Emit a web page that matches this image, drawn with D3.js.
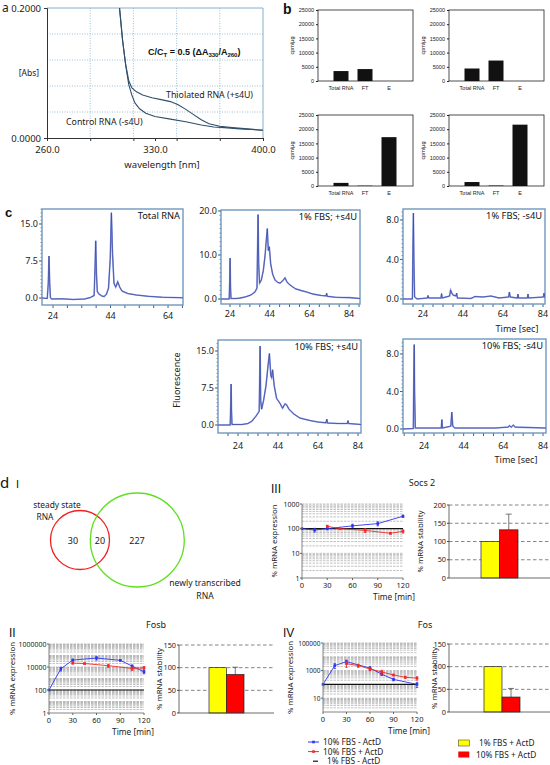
<!DOCTYPE html>
<html><head><meta charset="utf-8">
<script src="https://cdn.jsdelivr.net/npm/d3@7"></script>
<style>body{margin:0;background:#fff}svg{display:block}</style>
</head><body>
<svg id="fig" width="550" height="765"></svg>
<script>
// ================= DATA =================
// panel a : absorbance spectra
const wlTicks = [260, 330, 400];
const absTicks = [0, 0.2];
const thiolatedSpectrum = [[306,0.22],[307,0.2],[309,0.15],[311,0.113],[313,0.088],[315,0.077],[318,0.071],[322,0.066],[328,0.062],[334,0.059],[340,0.056],[345,0.051],[350,0.044],[355,0.036],[360,0.028],[365,0.022],[372,0.018],[380,0.016],[390,0.014],[400,0.012]];
const controlSpectrum = [[306,0.22],[307,0.2],[309,0.15],[311,0.112],[313,0.082],[315,0.066],[317,0.054],[320,0.045],[324,0.038],[330,0.033],[340,0.029],[350,0.025],[360,0.02],[368,0.017],[375,0.016],[385,0.014],[400,0.012]];

// panel b : cpm/µg bars
const bCategories = ["Total RNA", "FT", "E"];
const bTicks = [0, 5000, 10000, 15000, 20000, 25000];
const bTopLeft = [3500, 4200, 0];
const bTopRight = [4400, 7200, 0];
const bBottomLeft = [1100, 100, 17200];
const bBottomRight = [1400, 150, 21600];

// panel c : electropherograms [time sec, fluorescence]
const traceTotalRNA = [[20.2,0],[22,-0.1],[22.35,3],[22.6,8.5],[22.85,3],[23.1,0.1],[23.5,-0.2],[27,-0.15],[31,-0.3],[35,-0.2],[37,0.1],[38.3,0.5],[38.6,6],[38.85,11.6],[39.1,5],[39.4,1.3],[40,0.8],[41,0.4],[41.8,0.3],[42.6,0.8],[43.3,2],[43.9,8],[44.3,17.3],[44.7,9],[45.2,3],[45.8,2.2],[46.5,3.3],[47.2,2.2],[48,1.4],[50,0.9],[53,0.6],[57,0.35],[62,0.15],[69.2,0.05]];
const traceFBS1Plus = [[19.5,0],[23.6,0],[23.85,4],[24.05,9.3],[24.25,3],[24.5,0.1],[27,0.1],[29,0.2],[32,0.5],[34.5,0.9],[36.6,1.6],[37.6,2.5],[37.9,12],[38.15,19.2],[38.45,8],[38.9,3.6],[39.8,4.3],[40.8,6.5],[41.7,10],[42.4,14],[42.8,16],[43.3,11],[43.8,11.9],[44.5,8],[45.5,5.6],[46.7,4.3],[48,3.8],[49.2,3.6],[50.5,4.1],[51.7,4.8],[52.8,3.8],[54.2,3.2],[57,2.3],[60,1.9],[62.6,1.6],[66,1.1],[70,0.8],[72.4,0.7],[72.7,1.3],[73,0.6],[77,0.4],[80,0.35],[84.4,0.3],[89.5,0.1]];
const traceFBS1Minus = [[14,0],[18.7,0],[18.95,5],[19.2,8.7],[19.45,4],[19.8,0.2],[21,0],[26.2,0.1],[26.5,0.35],[26.8,0.1],[33,0.1],[33.3,0.55],[33.6,0.1],[37.3,0.3],[37.8,0.9],[38.4,0.6],[39,0.4],[40.5,0.3],[40.8,0.6],[41.2,0.1],[48,0.05],[50,0.25],[54,0.2],[58,0.3],[62,0.1],[66.8,0.2],[67.2,0.7],[67.6,0.2],[71.2,0.1],[71.5,0.5],[71.8,0.1],[76.2,0.1],[76.5,0.5],[76.8,0.1],[84.2,0.2],[84.5,0.6],[85,0.1]];
const traceFBS10Plus = [[14,0],[20.1,0],[20.35,4],[20.55,8.3],[20.75,3],[21,0.1],[26,0.1],[29,0.3],[31,0.8],[33,1.8],[34.6,2.8],[34.85,10],[35.05,16],[35.35,5],[35.8,3.2],[36.8,5],[38,8],[39,12],[39.7,14.5],[40.4,10],[40.8,9.6],[41.3,11.2],[42.1,8],[43.3,5.4],[45,4.4],[46.3,3.4],[47.5,4.3],[48.3,4.1],[49.5,3.2],[52,2.2],[55,1.4],[60,0.9],[64,0.6],[68,0.45],[68.4,1.2],[68.8,0.4],[74,0.3],[78.7,0.3],[79,0.9],[79.3,0.3],[85.5,0.1]];
const traceFBS10Minus = [[13.4,0],[18.6,0.05],[18.85,6],[19.05,9.0],[19.25,4],[19.6,0.1],[25,0.1],[32.7,0.1],[33,1.0],[33.3,0.1],[37.5,0.3],[38,1.8],[38.5,0.3],[39.5,0.1],[60,0.1],[66.5,0.2],[67,0.35],[68,0.2],[69,0.4],[70,0.2],[85.5,0.1]];

// panel d : Venn counts
const vennCounts = [30, 20, 227];
// panel d : time courses [min, % expression, error]
const timeTicks = [0, 30, 60, 90, 120];
const socsBlue = [[0,100,0],[15,88,15],[30,100,10],[60,130,22],[90,160,30],[120,320,35]];
const socsRed = [[30,125,12],[45,100,8],[75,85,15],[105,65,5],[120,78,12]];
const fosbBlue = [[0,100,0],[15,7000,2500],[30,40000,8000],[60,60000,20000],[90,38000,5000],[105,12000,3000],[120,3800,1200]];
const fosbRed = [[30,22000,4000],[45,20000,3000],[75,13000,4000],[105,7500,2500],[120,8500,2500]];
const fosBlue = [[0,100,0],[15,2300,900],[30,4500,1300],[60,1500,500],[75,550,100],[90,230,50],[120,100,40]];
const fosRed = [[30,3200,1500],[45,2300,600],[60,1300,300],[75,800,250],[90,480,60],[105,330,60],[120,280,80]];
const controlLevel = 100;
// panel d : stability bars
const stabCategories = ["1% FBS  + ActD", "10% FBS  + ActD"];
const socsStab = [100, 132], socsStabErr = [0, 43];
const fosbStab = [100, 85], fosbStabErr = [0, 16];
const fosStab = [100, 33], fosStabErr = [0, 19];
const lineLegend = ["10% FBS  - ActD", "10% FBS  + ActD", "1% FBS  - ActD"];

// ================= DRAWING =================
const svg = d3.select("#fig");
const SANS = "'Noto Sans','Open Sans',sans-serif";
const ARIAL = "'Liberation Sans',Arial,sans-serif";
function txt(g, x, y, s, o = {}) {
  return g.append("text").attr("x", x).attr("y", y).text(s)
    .attr("font-family", o.ff || SANS).attr("font-size", o.fs || 9)
    .attr("text-anchor", o.anchor || "start").attr("fill", o.fill || "#222")
    .attr("font-weight", o.fw || "normal");
}
function vtxt(g, x, y, s, o = {}) {
  return g.append("text").attr("transform", `translate(${x},${y}) rotate(-90)`).text(s)
    .attr("font-family", o.ff || SANS).attr("font-size", o.fs || 9)
    .attr("text-anchor", "middle").attr("fill", o.fill || "#222");
}
let clipId = 0;
function clip(L, T, W, H) {
  const id = "c" + (clipId++);
  svg.append("clipPath").attr("id", id).append("rect").attr("x", L).attr("y", T).attr("width", W).attr("height", H);
  return `url(#${id})`;
}

// ---------- panel a ----------
{
  const L = 47, R = 263, T = 8, B = 138;
  const g = svg.append("g");
  const x = d3.scaleLinear().domain([260, 400]).range([L, R]);
  const y = d3.scaleLinear().domain([0, 0.2]).range([B, T]);
  const gridX = d3.range(1, 5).map(i => 260 + i * 28);
  const gridY = d3.range(1, 5).map(i => i * 0.04);
  g.selectAll(".gx").data(gridX).join("line").attr("x1", d => x(d)).attr("x2", d => x(d))
    .attr("y1", T).attr("y2", B).attr("stroke", "#86aecb").attr("stroke-width", 0.8).attr("stroke-dasharray", "1,1.5");
  g.selectAll(".gy").data(gridY).join("line").attr("y1", d => y(d)).attr("y2", d => y(d))
    .attr("x1", L).attr("x2", R).attr("stroke", "#86aecb").attr("stroke-width", 0.8).attr("stroke-dasharray", "1,1.5");
  g.append("path").attr("d", `M${L},${T}H${R}V${B}`).attr("fill", "none").attr("stroke", "#86aecb").attr("stroke-width", 1);
  const line = d3.line().x(d => x(d[0])).y(d => y(d[1]));
  const cp = clip(L, T, R - L, B - T);
  g.append("path").datum(controlSpectrum).attr("d", line).attr("clip-path", cp).attr("fill", "none").attr("stroke", "#2f4f6a").attr("stroke-width", 1.1);
  g.append("path").datum(thiolatedSpectrum).attr("d", line).attr("clip-path", cp).attr("fill", "none").attr("stroke", "#2f4f6a").attr("stroke-width", 1.1);
  const ax = g.append("g").attr("transform", `translate(0,${B})`)
    .call(d3.axisBottom(x).tickValues([260, 288, 316, 330, 344, 372, 400]).tickSize(3).tickFormat(d => wlTicks.includes(d) ? d3.format(".1f")(d) : ""));
  const ay = g.append("g").attr("transform", `translate(${L},0)`)
    .call(d3.axisLeft(y).tickValues(absTicks).tickSize(3).tickFormat(d3.format(".4f")));
  [ax, ay].forEach(a => { a.selectAll("path,line").attr("stroke", "#333"); a.selectAll("text").attr("font-family", SANS).attr("font-size", 9.5).attr("fill", "#222"); });
  ax.selectAll("text").attr("dy", "0.9em");
  txt(g, 2, 12, "a", { fs: 12 });
  txt(g, 29, 76, "[Abs]", { fs: 8.5, anchor: "middle" });
  txt(g, 162, 168, "wavelength [nm]", { fs: 9.5, anchor: "middle" });
  txt(g, 166, 98, "Thiolated RNA (+s4U)", { fs: 8.8 });
  txt(g, 66, 125, "Control RNA (-s4U)", { fs: 8.8 });
  const t = txt(g, 148, 55, "", { ff: ARIAL, fs: 9, fw: "bold", fill: "#111" });
  t.append("tspan").text("C/C");
  t.append("tspan").text("T").attr("font-size", 6).attr("dy", 2);
  t.append("tspan").text(" = 0.5 (\u0394A").attr("dy", -2);
  t.append("tspan").text("330").attr("font-size", 6).attr("dy", 2);
  t.append("tspan").text("/A").attr("dy", -2);
  t.append("tspan").text("260").attr("font-size", 6).attr("dy", 2);
  t.append("tspan").text(")").attr("dy", -2);
}

// ---------- panel b ----------
function barB(x0, yT, vals) {
  const W = 95, H = 71;
  const g = svg.append("g");
  const x = d3.scalePoint().domain(bCategories).range([x0 + 23, x0 + 71]);
  const y = d3.scaleLinear().domain([0, 25000]).range([yT + H, yT]);
  g.append("rect").attr("x", x0).attr("y", yT).attr("width", W).attr("height", H).attr("fill", "none").attr("stroke", "#222").attr("stroke-width", 0.8);
  g.selectAll(".bar").data(vals).join("rect").attr("x", (d, i) => x(bCategories[i]) - 7.5).attr("width", 15)
    .attr("y", d => y(d)).attr("height", d => y(0) - y(d)).attr("fill", "#111");
  const ay = g.append("g").attr("transform", `translate(${x0},0)`)
    .call(d3.axisLeft(y).tickValues(bTicks).tickSize(2).tickPadding(2).tickFormat(d3.format("d")));
  ay.select(".domain").remove();
  ay.selectAll("line").attr("stroke", "#222");
  ay.selectAll("text").attr("font-family", ARIAL).attr("font-size", 5.5).attr("fill", "#222");
  bCategories.forEach(c => txt(g, x(c), yT + H + 9, c, { ff: ARIAL, fs: 5.5, anchor: "middle" }));
  vtxt(g, x0 - 24, yT + H / 2, "cpm/\u00b5g", { ff: ARIAL, fs: 5.5 });
}
barB(318, 10, bTopLeft);
barB(449, 10, bTopRight);
barB(318, 115, bBottomLeft);
barB(449, 115, bBottomRight);
txt(svg, 283, 14, "b", { ff: ARIAL, fs: 14, fw: "bold", fill: "#111" });

// ---------- panel c ----------
const cPanels = [
  { label: "Total RNA", data: traceTotalRNA, L: 42, R: 183, T: 209, B: 305, xDom: [20.17, 69.2], yDom: [-1.42, 18.04], yTicks: [0, 7.5, 15], xTicks: [24, 44, 64], lblY: 319 },
  { label: "1% FBS; +s4U", data: traceFBS1Plus, L: 221, R: 360, T: 210, B: 304, xDom: [19.47, 89.5], yDom: [-1.14, 20.23], yTicks: [0, 10, 20], xTicks: [24, 44, 64, 84], lblY: 317 },
  { label: "1% FBS; -s4U", data: traceFBS1Minus, L: 403, R: 545, T: 209, B: 304, xDom: [14, 85], yDom: [-0.51, 9.11], yTicks: [0, 4, 8], xTicks: [24, 44, 64, 84], lblY: 317 },
  { label: "10% FBS; +s4U", data: traceFBS10Plus, L: 218, R: 361, T: 340, B: 433, xDom: [14, 85.5], yDom: [-1.62, 17.23], yTicks: [0, 7.5, 15], xTicks: [24, 44, 64, 84], lblY: 449 },
  { label: "10% FBS; -s4U", data: traceFBS10Minus, L: 403, R: 546, T: 339, B: 433, xDom: [13.4, 85.5], yDom: [-0.43, 9.6], yTicks: [0, 4, 8], xTicks: [24, 44, 64, 84], lblY: 449 }
];
cPanels.forEach(p => {
  const g = svg.append("g");
  const x = d3.scaleLinear().domain(p.xDom).range([p.L, p.R]);
  const y = d3.scaleLinear().domain(p.yDom).range([p.B, p.T]);
  const fc = "#6f98bd";
  const xs = d3.range(p.xTicks[0] - 20, p.xDom[1], 5).filter(v => v > p.xDom[0]);
  g.selectAll(".xt").data(xs).join("line").attr("x1", d => x(d)).attr("x2", d => x(d)).attr("y1", p.B).attr("y2", p.B + 3).attr("stroke", "#3f5f86").attr("stroke-width", 1);
  const step = (p.yTicks[2] - p.yTicks[1]) / 10;
  const ys = d3.range(0, p.yDom[1], step);
  g.selectAll(".ym").data(ys).join("line").attr("x1", p.L - 1.5).attr("x2", p.L).attr("y1", d => y(d)).attr("y2", d => y(d)).attr("stroke", "#3f5f86").attr("stroke-width", 0.7);
  g.selectAll(".yM").data(p.yTicks).join("line").attr("x1", p.L - 3).attr("x2", p.L).attr("y1", d => y(d)).attr("y2", d => y(d)).attr("stroke", "#3f5f86").attr("stroke-width", 1);
  g.append("rect").attr("x", p.L).attr("y", p.T).attr("width", p.R - p.L).attr("height", p.B - p.T).attr("fill", "none").attr("stroke", fc).attr("stroke-width", 1.4);
  const line = d3.line().x(d => x(d[0])).y(d => y(d[1]));
  const cp = clip(p.L, p.T, p.R - p.L, p.B - p.T);
  g.append("path").datum(p.data).attr("d", line).attr("clip-path", cp).attr("fill", "none").attr("stroke", "#8c9ae6").attr("stroke-width", 1.6);
  g.append("path").datum(p.data).attr("d", line).attr("clip-path", cp).attr("fill", "none").attr("stroke", "#35439a").attr("stroke-width", 0.7);
  p.yTicks.forEach(v => txt(g, p.L - 4, y(v) + 3.3, d3.format(".1f")(v), { fs: 9, anchor: "end" }));
  p.xTicks.forEach(v => txt(g, x(v), p.lblY, v, { fs: 9, anchor: "middle" }));
  txt(g, p.R - 3, p.T + 10, p.label, { fs: 9.3, anchor: "end", fill: "#111" });
});
txt(svg, 5, 217, "c", { ff: ARIAL, fs: 13, fw: "bold", fill: "#111" });
txt(svg, 517, 332, "Time [sec]", { fs: 9, anchor: "middle" });
txt(svg, 516, 463, "Time [sec]", { fs: 9, anchor: "middle" });
vtxt(svg, 180, 380, "Fluorescence", { fs: 9 });

// ---------- panel d : Venn ----------
{
  const g = svg.append("g");
  const rSteady = 29.5, rNew = 47;
  g.append("circle").attr("cx", 80).attr("cy", 540).attr("r", rSteady).attr("fill", "none").attr("stroke", "#f01e1e").attr("stroke-width", 1.3);
  g.append("circle").attr("cx", 137.3).attr("cy", 540).attr("r", rNew).attr("fill", "none").attr("stroke", "#5ee01e").attr("stroke-width", 1.3);
  txt(g, 73, 543.5, vennCounts[0], { fs: 9, anchor: "middle" });
  txt(g, 100, 543.5, vennCounts[1], { fs: 9, anchor: "middle" });
  txt(g, 137, 543.5, vennCounts[2], { fs: 9, anchor: "middle" });
  txt(g, 57, 508, "steady state", { fs: 8.4, anchor: "middle" });
  txt(g, 45, 519.5, "RNA", { fs: 8.4, anchor: "middle" });
  txt(g, 205, 586, "newly transcribed", { fs: 8.6, anchor: "middle" });
  txt(g, 205, 599, "RNA", { fs: 8.6, anchor: "middle" });
  txt(g, 0, 488, "d", { fs: 15, fill: "#111" });
  txt(g, 16, 488, "I", { ff: ARIAL, fs: 11, fill: "#111" });
}

// ---------- panel d : time-course charts ----------
function logChart(c) {
  const g = svg.append("g");
  const x = d3.scaleLinear().domain([0, 120]).range([c.L, c.R]);
  const y = d3.scaleLog().domain(c.yDom).range([c.B, c.T]);
  const grid = [];
  for (let e = Math.log10(c.yDom[0]); e < Math.log10(c.yDom[1]); e++)
    for (let k = 1; k <= 9; k++) if (!(k === 1 && e === Math.log10(c.yDom[0]))) grid.push(k * Math.pow(10, e));
  grid.push(c.yDom[1]);
  g.selectAll(".gl").data(grid).join("line").attr("x1", c.L).attr("x2", c.R).attr("y1", d => y(d)).attr("y2", d => y(d))
    .attr("stroke", "#a8a8a8").attr("stroke-width", 0.7).attr("stroke-dasharray", "2.5,1");
  g.append("line").attr("x1", c.L).attr("x2", c.R).attr("y1", y(controlLevel)).attr("y2", y(controlLevel)).attr("stroke", "#111").attr("stroke-width", 1.2);
  const line = d3.line().x(d => x(d[0])).y(d => y(d[1]));
  [[c.blue, "#2a35f0"], [c.red, "#f02a2a"]].forEach(([s, col]) => {
    g.append("path").datum(s).attr("d", line).attr("fill", "none").attr("stroke", col).attr("stroke-width", 0.9);
    s.forEach(d => {
      if (d[2] > 0) {
        const lo = Math.max(d[1] - d[2], c.yDom[0]);
        g.append("line").attr("x1", x(d[0])).attr("x2", x(d[0])).attr("y1", y(lo)).attr("y2", y(d[1] + d[2])).attr("stroke", col).attr("stroke-width", 0.9);
        [lo, d[1] + d[2]].forEach(v => g.append("line").attr("x1", x(d[0]) - 1.2).attr("x2", x(d[0]) + 1.2).attr("y1", y(v)).attr("y2", y(v)).attr("stroke", col).attr("stroke-width", 0.8));
      }
      g.append("rect").attr("x", x(d[0]) - 1.3).attr("y", y(d[1]) - 1.3).attr("width", 2.6).attr("height", 2.6).attr("fill", col);
    });
  });
  g.append("path").attr("d", `M${c.L},${c.T}V${c.B}H${c.R}`).attr("fill", "none").attr("stroke", "#666").attr("stroke-width", 0.8);
  c.yTicks.forEach(v => {
    g.append("line").attr("x1", c.L - 2).attr("x2", c.L).attr("y1", y(v)).attr("y2", y(v)).attr("stroke", "#666");
    txt(g, c.L - 2.5, y(v) + 2.5, v, { fs: c.tfs || 7, anchor: "end" });
  });
  timeTicks.forEach(v => {
    g.append("line").attr("x1", x(v)).attr("x2", x(v)).attr("y1", c.B).attr("y2", c.B + 2).attr("stroke", "#666");
    txt(g, x(v), c.B + 10, v, { fs: 7.5, anchor: "middle" });
  });
  txt(g, c.tx, c.B + 22, "Time [min]", { fs: 8.3, anchor: "middle" });
  vtxt(g, c.lx, (c.T + c.B) / 2, "% mRNA expression", { fs: 7.8 });
}
function stabChart(c) {
  const g = svg.append("g");
  const x = d3.scaleBand().domain(stabCategories).range(c.bars);
  const y = d3.scaleLinear().domain([0, c.max]).range([c.B, c.T]);
  const ticks = d3.range(0, c.max + 1, 50);
  g.selectAll(".gl").data(ticks.slice(1)).join("line").attr("x1", c.L).attr("x2", c.R).attr("y1", d => y(d)).attr("y2", d => y(d))
    .attr("stroke", "#333").attr("stroke-width", 0.6).attr("stroke-dasharray", "3.5,2.5");
  const cols = ["#ffff00", "#ff0000"];
  c.vals.forEach((v, i) => {
    const cx = x(stabCategories[i]) + x.bandwidth() / 2;
    if (c.errs[i] > 0) {
      g.append("line").attr("x1", cx).attr("x2", cx).attr("y1", y(v)).attr("y2", y(v + c.errs[i])).attr("stroke", "#555").attr("stroke-width", 0.8);
      g.append("line").attr("x1", cx - 3).attr("x2", cx + 3).attr("y1", y(v + c.errs[i])).attr("y2", y(v + c.errs[i])).attr("stroke", "#555").attr("stroke-width", 0.8);
    }
    g.append("rect").attr("x", x(stabCategories[i])).attr("width", x.bandwidth()).attr("y", y(v)).attr("height", y(0) - y(v))
      .attr("fill", cols[i]).attr("stroke", "#222").attr("stroke-width", 0.7);
  });
  g.append("path").attr("d", `M${c.L},${c.T}V${c.B}H${c.R}`).attr("fill", "none").attr("stroke", "#444").attr("stroke-width", 0.8);
  ticks.forEach(v => {
    g.append("line").attr("x1", c.L - 2).attr("x2", c.L).attr("y1", y(v)).attr("y2", y(v)).attr("stroke", "#444");
    txt(g, c.L - 3, y(v) + 2.6, v, { fs: 7.3, anchor: "end" });
  });
  vtxt(g, c.lx, (c.T + c.B) / 2, "% mRNA stability", { fs: 7.8 });
}
// III Socs 2
txt(svg, 271, 493, "III", { ff: ARIAL, fs: 12, fill: "#111" });
txt(svg, 422, 486, "Socs 2", { fs: 9, anchor: "middle" });
logChart({ L: 302, R: 403, T: 504, B: 578, yDom: [1, 1000], yTicks: [1, 10, 100, 1000], blue: socsBlue, red: socsRed, tx: 394, lx: 277 });
stabChart({ L: 449, R: 550, T: 505, B: 578, max: 200, bars: [481, 518], vals: socsStab, errs: socsStabErr, lx: 423 });
// II Fosb
txt(svg, 9, 637, "II", { ff: ARIAL, fs: 12, fill: "#111" });
txt(svg, 156, 628, "Fosb", { fs: 9, anchor: "middle" });
logChart({ L: 49, R: 144, T: 644, B: 713, yDom: [1, 1000000], yTicks: [1, 100, 10000, 1000000], blue: fosbBlue, red: fosbRed, tx: 133, lx: 15 });
stabChart({ L: 179, R: 274, T: 645, B: 713, max: 150, bars: [209, 244], vals: fosbStab, errs: fosbStabErr, lx: 162 });
// IV Fos
txt(svg, 283, 637, "IV", { ff: ARIAL, fs: 12, fill: "#111" });
txt(svg, 425, 628, "Fos", { fs: 9, anchor: "middle" });
logChart({ L: 323, R: 417, T: 643, B: 712, yDom: [1, 100000], yTicks: [10, 1000, 100000], blue: fosBlue, red: fosRed, tx: 409, lx: 293, tfs: 6.5 });
stabChart({ L: 449, R: 550, T: 644, B: 712, max: 150, bars: [484, 520], vals: fosStab, errs: fosStabErr, lx: 437 });

// legends
{
  const g = svg.append("g");
  const cols = ["#2a35f0", "#f02a2a", "#111"];
  lineLegend.forEach((s, i) => {
    const yy = 742 + i * 9.6;
    if (i < 2) {
      g.append("line").attr("x1", 308).attr("x2", 319).attr("y1", yy).attr("y2", yy).attr("stroke", cols[i]).attr("stroke-width", 1);
      g.append("rect").attr("x", 312.2).attr("y", yy - 1.3).attr("width", 2.6).attr("height", 2.6).attr("fill", cols[i]);
      txt(g, 323, yy + 3, s, { fs: 8.3 });
    } else {
      g.append("line").attr("x1", 313).attr("x2", 318).attr("y1", yy).attr("y2", yy).attr("stroke", cols[i]).attr("stroke-width", 1.2);
      txt(g, 327, yy + 3, s, { fs: 8.3 });
    }
  });
  const bc = ["#ffff00", "#ff0000"];
  stabCategories.forEach((s, i) => {
    const yy = 740 + i * 11.5;
    g.append("rect").attr("x", 458.3).attr("y", yy).attr("width", 11).attr("height", 6).attr("fill", bc[i]).attr("stroke", i ? "none" : "#333").attr("stroke-width", 0.5);
    txt(g, i ? 476 : 479, yy + 6, s, { fs: 8.3 });
  });
}
</script>
</body></html>
